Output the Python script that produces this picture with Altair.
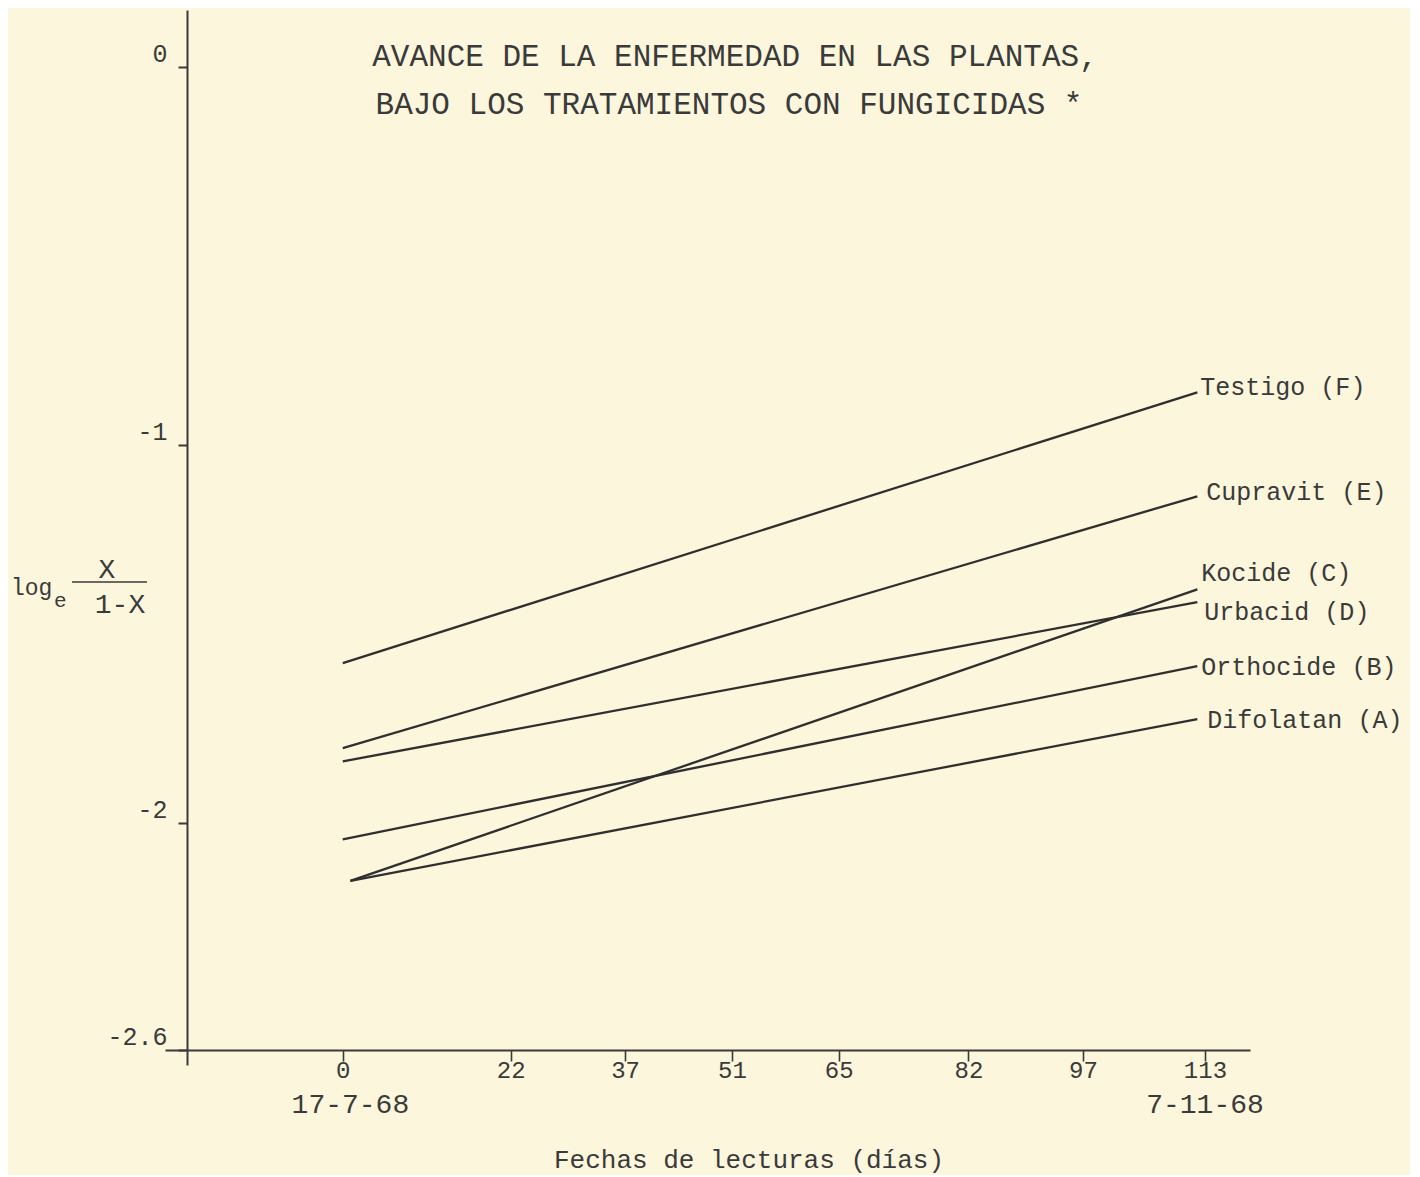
import altair as alt
import pandas as pd

# ---- data ----
series = ["Testigo (F)", "Cupravit (E)", "Kocide (C)", "Urbacid (D)", "Orthocide (B)", "Difolatan (A)"]
start_day = [0, 0, 1, 0, 0, 1]
end_day = [112, 112, 112, 112, 112, 112]
start_val = [-1.577, -1.802, -2.153, -1.837, -2.043, -2.153]
end_val = [-0.861, -1.136, -1.382, -1.416, -1.585, -1.725]

x_ticks = [0, 22, 37, 51, 65, 82, 97, 113]
y_ticks = [0, -1, -2, -2.6]
y_tick_labels = ["0", "-1", "-2", "-2.6"]
date_days = [1, 113]
date_labels = ["17-7-68", "7-11-68"]

title_lines = ["AVANCE DE LA ENFERMEDAD EN LAS PLANTAS,", "BAJO LOS TRATAMIENTOS CON FUNGICIDAS *"]
x_title = "Fechas de lecturas (días)"

# ---- styling (not data) ----
label_dx = [3, 9, 4, 7, 4, 10]
label_dy = [-5, -4, -16, 10, 1, 1]
INK = "#3a3a3a"
LINE = "#2f2f2f"
BG = "#fbf6dc"
FONT = "Liberation Mono"

rows = []
for s, d0, d1, v0, v1 in zip(series, start_day, end_day, start_val, end_val):
    rows.append({"serie": s, "dia": d0, "valor": v0})
    rows.append({"serie": s, "dia": d1, "valor": v1})
lines_df = pd.DataFrame(rows)

xscale = alt.Scale(domain=[-23.3, 118.9], nice=False, zero=False)
yscale = alt.Scale(domain=[-2.64, 0.15], nice=False, zero=False)

label_expr = " : ".join(
    f"datum.value == {v} ? '{t}'" for v, t in zip(y_ticks, y_tick_labels)
) + " : ''"

lines = alt.Chart(lines_df).mark_line(color=LINE, strokeWidth=2.3).encode(
    x=alt.X("dia:Q", scale=xscale,
            axis=alt.Axis(values=x_ticks, title=None, offset=-15, grid=False,
                          domainColor=INK, domainWidth=2, tickColor=INK, tickWidth=1.6,
                          tickSize=11, labelPadding=-3, labelFont=FONT, labelFontSize=24,
                          labelColor=INK, labelBaseline="top")),
    y=alt.Y("valor:Q", scale=yscale,
            axis=alt.Axis(values=y_ticks, title=None, offset=-22, grid=False,
                          labelExpr=label_expr,
                          domainColor=INK, domainWidth=2, tickColor=INK, tickWidth=2,
                          tickSize=9, labelPadding=11, labelFont=FONT, labelFontSize=25,
                          labelColor=INK, labelBaseline="bottom", labelAlign="right")),
    detail="serie:N",
)

layers = [lines]

# line labels
for s, d1, v1, dx, dy in zip(series, end_day, end_val, label_dx, label_dy):
    df = pd.DataFrame({"serie": [s], "dia": [d1], "valor": [v1]})
    layers.append(
        alt.Chart(df).mark_text(align="left", baseline="middle", dx=dx, dy=dy,
                                font=FONT, fontSize=25, color=INK).encode(
            x=alt.X("dia:Q", scale=xscale), y=alt.Y("valor:Q", scale=yscale), text="serie:N")
    )

# date labels under x axis
dates_df = pd.DataFrame({"dia": date_days, "fecha": date_labels})
layers.append(
    alt.Chart(dates_df).mark_text(align="center", baseline="middle", font=FONT,
                                  fontSize=28, color=INK).encode(
        x=alt.X("dia:Q", scale=xscale), y=alt.value(1095), text="fecha:N")
)

def txt(t, x, y, size, align="center", baseline="middle"):
    return alt.Chart(pd.DataFrame({"t": [t]})).mark_text(
        align=align, baseline=baseline, font=FONT, fontSize=size, color=INK
    ).encode(x=alt.value(x), y=alt.value(y), text="t:N")

layers.append(txt(title_lines[0], 570, 47, 31))
layers.append(txt(title_lines[1], 564, 95, 31))
layers.append(txt(x_title, 584, 1150, 26))

# y axis title: log_e X / (1-X)
layers.append(txt("log", -154, 585, 23, align="left", baseline="alphabetic"))
layers.append(txt("e", -111, 597, 21, align="left", baseline="alphabetic"))
layers.append(txt("X", -58, 568, 28, baseline="alphabetic"))
layers.append(txt("1-X", -45, 603, 28, baseline="alphabetic"))
layers.append(
    alt.Chart(pd.DataFrame({"t": [0]})).mark_rule(color=INK, strokeWidth=1.6).encode(
        x=alt.value(-93), x2=alt.value(-18), y=alt.value(572))
)

chart = alt.layer(*layers).properties(
    width=1085, height=1055,
    padding={"left": 157, "top": 2, "right": 160, "bottom": 110},
    autosize=alt.AutoSizeParams(type="none"),
    background=BG,
).configure_view(stroke=None)

chart.save("out.html", embed_options={"renderer": "svg", "actions": False})
